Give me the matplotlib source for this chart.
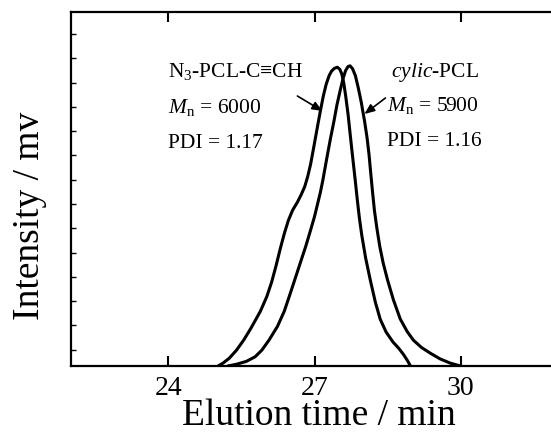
import matplotlib
matplotlib.use("Agg")
import matplotlib.pyplot as plt
import numpy as np

plt.rcParams['font.family'] = ['Liberation Serif', 'DejaVu Serif']
plt.rcParams['mathtext.fontset'] = 'custom'
plt.rcParams['mathtext.rm'] = 'Liberation Serif'
plt.rcParams['mathtext.it'] = 'Liberation Serif:italic'

# N3-PCL-C≡CH trace (elution time / min, intensity)
linear_t = [25.02, 25.12, 25.25, 25.40, 25.55, 25.70, 25.89, 26.02, 26.12, 26.21,
            26.30, 26.38, 26.46, 26.55, 26.65, 26.73, 26.80, 26.86, 26.92, 26.97,
            27.02, 27.07, 27.12, 27.18, 27.24, 27.30, 27.35, 27.41, 27.47, 27.52,
            27.56, 27.60, 27.64, 27.69, 27.74, 27.79, 27.84, 27.88, 27.92, 27.97,
            28.05, 28.15, 28.25, 28.35, 28.47, 28.61, 28.73, 28.83, 28.91, 28.97]
linear_i = [0.000, 0.008, 0.022, 0.045, 0.074, 0.108, 0.155, 0.196, 0.237, 0.283,
            0.333, 0.374, 0.410, 0.440, 0.463, 0.485, 0.507, 0.535, 0.570, 0.607,
            0.645, 0.683, 0.720, 0.762, 0.796, 0.820, 0.833, 0.841, 0.844, 0.838,
            0.825, 0.800, 0.763, 0.710, 0.645, 0.582, 0.520, 0.468, 0.420, 0.370,
            0.305, 0.240, 0.180, 0.132, 0.096, 0.068, 0.050, 0.032, 0.015, 0.000]

# cyclic-PCL trace
cyclic_t = [25.22, 25.40, 25.60, 25.78, 25.92, 26.07, 26.24, 26.38, 26.50, 26.61,
            26.71, 26.82, 26.92, 27.00, 27.06, 27.12, 27.17, 27.22, 27.27, 27.33,
            27.40, 27.46, 27.53, 27.59, 27.64, 27.69, 27.73, 27.78, 27.84, 27.90,
            27.96, 28.03, 28.08, 28.12, 28.15, 28.19, 28.23, 28.28, 28.34, 28.41,
            28.50, 28.62, 28.76, 28.90, 29.03, 29.20, 29.38, 29.58, 29.79, 30.00]
cyclic_i = [0.000, 0.005, 0.013, 0.026, 0.045, 0.074, 0.112, 0.155, 0.204, 0.250,
            0.292, 0.338, 0.384, 0.422, 0.456, 0.490, 0.524, 0.562, 0.600, 0.644,
            0.692, 0.737, 0.780, 0.814, 0.835, 0.846, 0.848, 0.840, 0.820, 0.785,
            0.745, 0.690, 0.644, 0.597, 0.552, 0.494, 0.440, 0.390, 0.338, 0.291,
            0.243, 0.187, 0.133, 0.098, 0.073, 0.052, 0.036, 0.020, 0.008, 0.000]

xticks = [24, 27, 30]

W, H = 551, 433
fig = plt.figure(figsize=(W/100, H/100), dpi=100)
ax = fig.add_axes([71/W, (H-366)/H, 487/W, 354/H])

lw = 2.2
ax.plot(linear_t, linear_i, color='black', lw=lw, solid_capstyle='round', solid_joinstyle='round')
ax.plot(cyclic_t, cyclic_i, color='black', lw=lw, solid_capstyle='round', solid_joinstyle='round')

ax.set_xlim(22, 32)
ax.set_ylim(0, 1)

for s in ['left', 'bottom', 'top']:
    ax.spines[s].set_linewidth(1.6)
ax.spines['right'].set_visible(False)

ax.set_xticks(xticks)
ax.set_xticklabels([str(v) for v in xticks])
ax.tick_params(axis='x', which='major', direction='in', length=7, width=1.5,
               labelsize=20, pad=7, top=True)
ax.set_yticks(np.arange(0.046, 0.95, 0.0686))
ax.set_yticklabels([])
ax.tick_params(axis='y', which='major', direction='in', length=3.5, width=1.0,
               left=True, right=False)

ax.set_xlabel('Elution time / min', fontsize=27, va='top')
ax.xaxis.set_label_coords(0.509, -0.093)
ax.set_ylabel('Intensity / mv', fontsize=27)
ax.yaxis.set_label_coords(-0.049, 0.425)

fs = 15.5
def px2data(px, py):
    x = 24 + (px - 168) / 48.7
    y = (366 - py) / 354
    return x, y

ax.text(*px2data(168, 72), r'N$_3$-PCL-C≡CH', fontsize=fs, va='center', ha='left')
ax.text(*px2data(168, 107), r'$M_{\rm n}$ = 6000', fontsize=fs, va='center', ha='left')
ax.text(*px2data(168, 143), 'PDI = 1.17', fontsize=fs, va='center', ha='left')

ax.text(*px2data(391, 72), r'$cylic$-PCL', fontsize=fs, va='center', ha='left')
ax.text(*px2data(387, 105), r'$M_{\rm n}$ = 5900', fontsize=fs, va='center', ha='left')
ax.text(*px2data(387, 141), 'PDI = 1.16', fontsize=fs, va='center', ha='left')

arrowprops = dict(arrowstyle='-|>,head_length=0.6,head_width=0.25', color='black', lw=1.2,
                  shrinkA=0, shrinkB=0)
ax.annotate('', xy=px2data(322, 111), xytext=px2data(297, 96), arrowprops=arrowprops)
ax.annotate('', xy=px2data(364, 114), xytext=px2data(385, 98), arrowprops=arrowprops)

fig.savefig('out.png', dpi=100)
